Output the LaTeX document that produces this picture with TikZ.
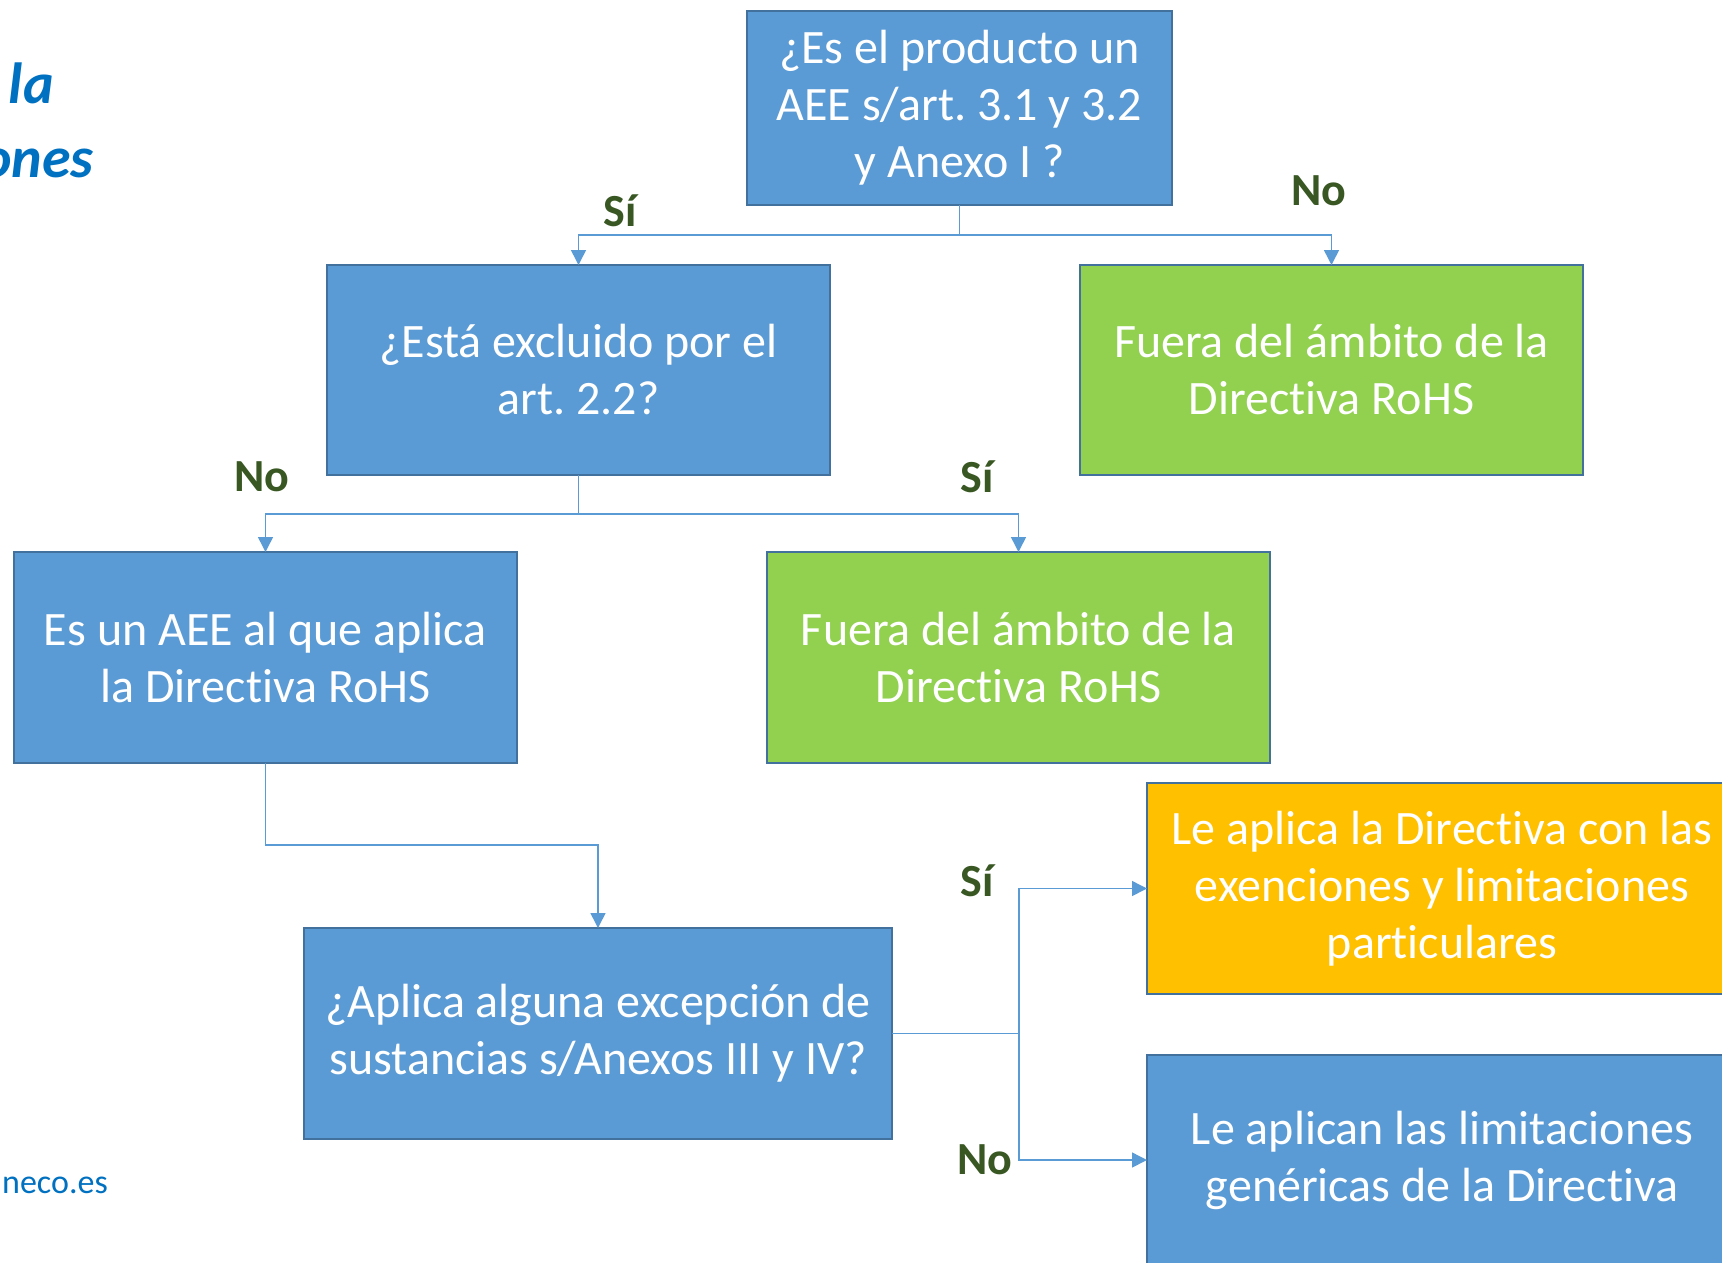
\documentclass[tikz,border=0pt]{standalone}
\usepackage{fontspec}
\setmainfont{Carlito}[Ligatures=NoCommon]
\usetikzlibrary{arrows.meta}
\definecolor{boxblue}{HTML}{5B9BD5}
\definecolor{edgeblue}{HTML}{41719C}
\definecolor{boxgreen}{HTML}{92D050}
\definecolor{boxorange}{HTML}{FFC000}
\definecolor{answergreen}{HTML}{385723}
\definecolor{titleblue}{HTML}{0070C0}
\frenchspacing

\begin{document}
\begin{tikzpicture}[x=1pt,y=-1pt]
    \tikzstyle{qbox}=[rectangle,draw=edgeblue,line width=2pt,fill=boxblue,text=white,align=center,font=\fontsize{48}{57}\selectfont,inner sep=0pt,outer sep=0pt]
    \tikzstyle{outbox}=[qbox,fill=boxgreen]
    \tikzstyle{link}=[draw=boxblue,line width=1.5pt]
    \tikzstyle{arr}=[link,-{Triangle[width=15pt,length=15pt]}]
    \tikzstyle{answer}=[text=answergreen,font=\fontsize{46}{56}\selectfont\bfseries]
    \tikzstyle{title}=[text=titleblue,font=\fontsize{58}{66}\selectfont\bfseries\itshape,anchor=base east,inner sep=0pt]
    \useasboundingbox (0,0) rectangle (1722,1262);
    \clip (0,0) rectangle (1722,1262);
    % side texts
    \node[title] (titla) at (54,103) {la};
    \node[title] (titlb) at (94,177) {ones};
    \node[text=titleblue,font=\fontsize{34}{40}\selectfont,anchor=base east,inner sep=0pt] (web) at (108,1193) {neco.es};
    % boxes
    \node[qbox,minimum width=425pt,minimum height=194pt] (prod) at (959.5,108) {¿Es el producto un\\AEE s/art. 3.1 y 3.2\\y Anexo I ?};
    \node[qbox,minimum width=503pt,minimum height=210pt] (excl) at (578.5,370) {¿Está excluido por el\\art. 2.2?};
    \node[outbox,minimum width=503pt,minimum height=210pt] (fuera1) at (1331.5,370) {Fuera del ámbito de la\\Directiva RoHS};
    \node[qbox,minimum width=503pt,minimum height=211pt] (aee) at (265.5,657.5) {Es un AEE al que aplica\\la Directiva RoHS};
    \node[outbox,minimum width=503pt,minimum height=211pt] (fuera2) at (1018.5,657.5) {Fuera del ámbito de la\\Directiva RoHS};
    \node[qbox,minimum width=588pt,minimum height=211pt] (excep) at (598,1033.5) {¿Aplica alguna excepción de\\sustancias s/Anexos III y IV?};
    \node[qbox,fill=boxorange,minimum width=590pt,minimum height=211pt] (exen) at (1442,888.5) {Le aplica la Directiva con las\\exenciones y limitaciones\\particulares};
    \node[qbox,minimum width=590pt,minimum height=210pt] (gen) at (1442,1160) {Le aplican las limitaciones\\genéricas de la Directiva};
    % connectors
    \coordinate (forkprod) at (959.5,235);
    \coordinate (forkexcl) at (578.5,514);
    \coordinate (bendaee) at (265.5,845);
    \coordinate (forkexcep) at (1019,1033.5);
    \draw[link] (prod.south) -- (forkprod);
    \draw[arr] (forkprod) -| (excl.north);
    \draw[arr] (forkprod) -| (fuera1.north);
    \draw[link] (excl.south) -- (forkexcl);
    \draw[arr] (forkexcl) -| (aee.north);
    \draw[arr] (forkexcl) -| (fuera2.north);
    \draw[arr] (aee.south) -- (bendaee) -| (excep.north);
    \draw[link] (excep.east) -- (forkexcep);
    \draw[arr] (forkexcep) |- (exen.west);
    \draw[arr] (forkexcep) |- (gen.west);
    % answers
    \node[answer] (si1) at (620,211) {Sí};
    \node[answer] (no1) at (1319,191) {No};
    \node[answer] (no2) at (262,477) {No};
    \node[answer] (si2) at (977,477) {Sí};
    \node[answer] (si3) at (977,881) {Sí};
    \node[answer] (no3) at (985,1160) {No};
\end{tikzpicture}
\end{document}
